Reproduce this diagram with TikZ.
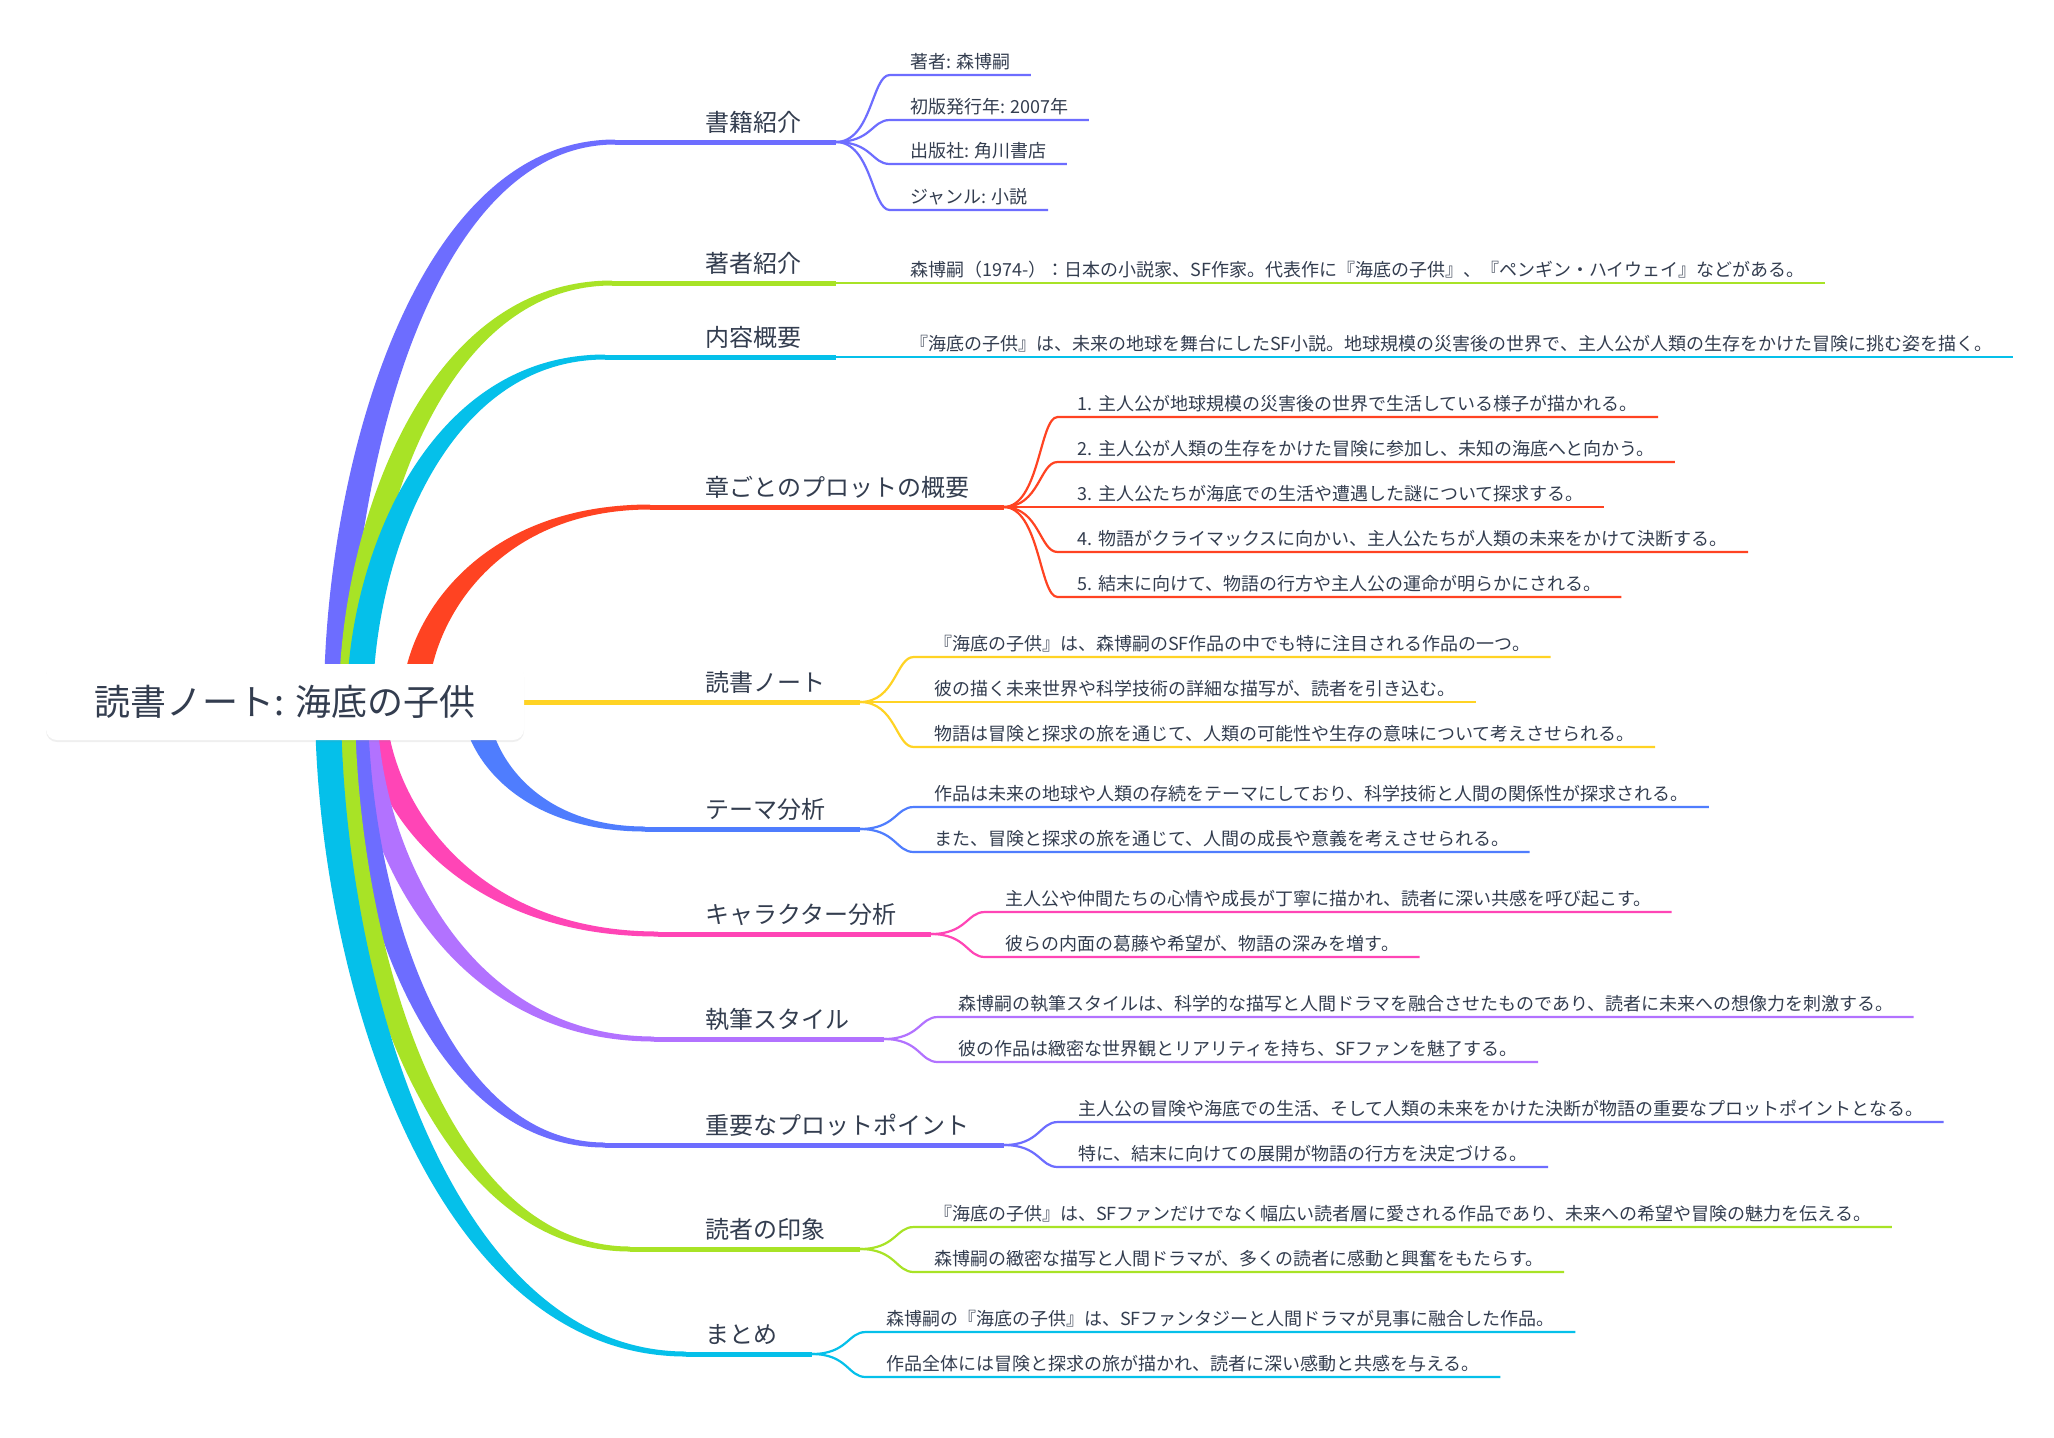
\documentclass[tikz,border=0pt]{standalone}
\usepackage{fontspec}
\setmainfont{Noto Sans CJK JP}
\usetikzlibrary{calc,positioning,shadows,backgrounds}
\definecolor{mmtext}{HTML}{333D4F}
\definecolor{mmindigo}{HTML}{6D6DFF}
\definecolor{mmlime}{HTML}{A8E326}
\definecolor{mmcyan}{HTML}{05C0EA}
\definecolor{mmred}{HTML}{FF4322}
\definecolor{mmyellow}{HTML}{FFD324}
\definecolor{mmblue}{HTML}{4F7DFE}
\definecolor{mmpink}{HTML}{FF45B6}
\definecolor{mmviolet}{HTML}{B272FF}

% tapered main branch: colour, start, end, -1 up / 1 down
\newcommand\limb[4]{%
  \coordinate (lo0) at ($(#2)+(-13,0)$);
  \coordinate (li0) at ($(#2)+(13,0)$);
  \coordinate (lo3) at ($(#3)+(0,#4*2.5)$);
  \coordinate (li3) at ($(#3)+(0,-#4*2.5)$);
  \fill[#1] (lo0) .. controls ($(lo0)!0.4!(lo0|-lo3)$) and ($(lo3)!0.7!(lo0|-lo3)$) .. (lo3)
    -- (li3) .. controls ($(li3)!0.7!(li0|-li3)$) and ($(li0)!0.4!(li0|-li3)$) .. (li0) -- cycle;
}

\begin{document}
\begin{tikzpicture}[x=0.5pt,y=-0.5pt,
  every node/.style={text=mmtext},
  root/.style={fill=white,rounded corners=5.5pt,minimum width=239pt,minimum height=38pt,
    font=\fontsize{18}{22}\selectfont,
    drop shadow={shadow xshift=0pt,shadow yshift=-1pt,opacity=0.12}},
  br/.style={anchor=south west,inner xsep=17pt,inner ysep=5.2pt,text depth=0pt,
    font=\fontsize{12}{14}\selectfont},
  lf/.style={anchor=south west,inner xsep=10pt,inner ysep=3.3pt,text depth=0pt,
    font=\fontsize{9}{11}\selectfont},
  stem/.style={line width=2.5pt},
  twig/.style={line width=1.1pt}]
\useasboundingbox (0,0) rectangle (2054,1437);

\node[root] (root) at (285,702) {読書ノート: 海底の子供};

% branch labels
\node[br] (b1) at (671,142) {書籍紹介};
\node[br] (b2) at (671,283) {著者紹介};
\node[br] (b3) at (671,357) {内容概要};
\node[br] (b4) at (671,507) {章ごとのプロットの概要};
\node[br] (b5) at (671,702) {読書ノート};
\node[br] (b6) at (671,829) {テーマ分析};
\node[br] (b7) at (671,934) {キャラクター分析};
\node[br] (b8) at (671,1039) {執筆スタイル};
\node[br] (b9) at (671,1145) {重要なプロットポイント};
\node[br] (b10) at (671,1249) {読者の印象};
\node[br] (b11) at (671,1354) {まとめ};

\begin{scope}[on background layer]
  \fill[white] (0,0) rectangle (2054,1437);
  \coordinate (s1) at (337,702);  \coordinate (e1) at (615,142);
  \coordinate (s2) at (352,702);  \coordinate (e2) at (612,283);
  \coordinate (s3) at (360,702);  \coordinate (e3) at (605,357);
  \coordinate (s4) at (415,702);  \coordinate (e4) at (650,507);
  \coordinate (s6) at (475,702);  \coordinate (e6) at (645,829);
  \coordinate (s7) at (373,702);  \coordinate (e7) at (658,934);
  \coordinate (s8) at (364,702);  \coordinate (e8) at (654,1039);
  \coordinate (s9) at (355,702);  \coordinate (e9) at (605,1145);
  \coordinate (s10) at (342,702); \coordinate (e10) at (630,1249);
  \coordinate (s11) at (328,702); \coordinate (e11) at (686,1354);
  \limb{mmindigo}{s1}{e1}{-1} \draw[stem,mmindigo] (e1) -- (b1.south east);
  \limb{mmlime}{s2}{e2}{-1}   \draw[stem,mmlime] (e2) -- (b2.south east);
  \limb{mmcyan}{s3}{e3}{-1}   \draw[stem,mmcyan] (e3) -- (b3.south east);
  \limb{mmred}{s4}{e4}{-1}    \draw[stem,mmred] (e4) -- (b4.south east);
  \draw[stem,mmyellow] (root.east) -- (b5.south east);
  \limb{mmblue}{s6}{e6}{1}    \draw[stem,mmblue] (e6) -- (b6.south east);
  \limb{mmpink}{s7}{e7}{1}    \draw[stem,mmpink] (e7) -- (b7.south east);
  \limb{mmviolet}{s8}{e8}{1}  \draw[stem,mmviolet] (e8) -- (b8.south east);
  \limb{mmindigo}{s9}{e9}{1}  \draw[stem,mmindigo] (e9) -- (b9.south east);
  \limb{mmlime}{s10}{e10}{1}  \draw[stem,mmlime] (e10) -- (b10.south east);
  \limb{mmcyan}{s11}{e11}{1}  \draw[stem,mmcyan] (e11) -- (b11.south east);
\end{scope}

% leaves
\foreach \dy/\txt [count=\i] in {-67/{著者: 森博嗣}, -22/{初版発行年: 2007年}, 22/{出版社: 角川書店}, 68/{ジャンル: 小説}}{
  \node[lf] (l1-\i) at ($(b1.south east)+(54,\dy)$) {\txt};
  \draw[twig,mmindigo] (b1.south east) .. controls +(36,0) and +(-18,0) .. (l1-\i.south west) -- (l1-\i.south east);
}
\node[lf] (l2-1) at ($(b2.south east)+(54,0)$) {森博嗣（1974-）：日本の小説家、SF作家。代表作に『海底の子供』、『ペンギン・ハイウェイ』などがある。};
\draw[twig,mmlime] (b2.south east) -- (l2-1.south west) -- (l2-1.south east);
\node[lf] (l3-1) at ($(b3.south east)+(54,0)$) {『海底の子供』は、未来の地球を舞台にしたSF小説。地球規模の災害後の世界で、主人公が人類の生存をかけた冒険に挑む姿を描く。};
\draw[twig,mmcyan] (b3.south east) -- (l3-1.south west) -- (l3-1.south east);
\foreach \dy/\txt [count=\i] in {
    -90/{1. 主人公が地球規模の災害後の世界で生活している様子が描かれる。},
    -45/{2. 主人公が人類の生存をかけた冒険に参加し、未知の海底へと向かう。},
    0/{3. 主人公たちが海底での生活や遭遇した謎について探求する。},
    45/{4. 物語がクライマックスに向かい、主人公たちが人類の未来をかけて決断する。},
    90/{5. 結末に向けて、物語の行方や主人公の運命が明らかにされる。}}{
  \node[lf] (l4-\i) at ($(b4.south east)+(54,\dy)$) {\txt};
  \draw[twig,mmred] (b4.south east) .. controls +(36,0) and +(-18,0) .. (l4-\i.south west) -- (l4-\i.south east);
}
\foreach \dy/\txt [count=\i] in {
    -45/{『海底の子供』は、森博嗣のSF作品の中でも特に注目される作品の一つ。},
    0/{彼の描く未来世界や科学技術の詳細な描写が、読者を引き込む。},
    45/{物語は冒険と探求の旅を通じて、人類の可能性や生存の意味について考えさせられる。}}{
  \node[lf] (l5-\i) at ($(b5.south east)+(54,\dy)$) {\txt};
  \draw[twig,mmyellow] (b5.south east) .. controls +(36,0) and +(-18,0) .. (l5-\i.south west) -- (l5-\i.south east);
}
\foreach \dy/\txt [count=\i] in {
    -22/{作品は未来の地球や人類の存続をテーマにしており、科学技術と人間の関係性が探求される。},
    23/{また、冒険と探求の旅を通じて、人間の成長や意義を考えさせられる。}}{
  \node[lf] (l6-\i) at ($(b6.south east)+(54,\dy)$) {\txt};
  \draw[twig,mmblue] (b6.south east) .. controls +(36,0) and +(-18,0) .. (l6-\i.south west) -- (l6-\i.south east);
}
\foreach \dy/\txt [count=\i] in {
    -22/{主人公や仲間たちの心情や成長が丁寧に描かれ、読者に深い共感を呼び起こす。},
    23/{彼らの内面の葛藤や希望が、物語の深みを増す。}}{
  \node[lf] (l7-\i) at ($(b7.south east)+(54,\dy)$) {\txt};
  \draw[twig,mmpink] (b7.south east) .. controls +(36,0) and +(-18,0) .. (l7-\i.south west) -- (l7-\i.south east);
}
\foreach \dy/\txt [count=\i] in {
    -22/{森博嗣の執筆スタイルは、科学的な描写と人間ドラマを融合させたものであり、読者に未来への想像力を刺激する。},
    23/{彼の作品は緻密な世界観とリアリティを持ち、SFファンを魅了する。}}{
  \node[lf] (l8-\i) at ($(b8.south east)+(54,\dy)$) {\txt};
  \draw[twig,mmviolet] (b8.south east) .. controls +(36,0) and +(-18,0) .. (l8-\i.south west) -- (l8-\i.south east);
}
\foreach \dy/\txt [count=\i] in {
    -23/{主人公の冒険や海底での生活、そして人類の未来をかけた決断が物語の重要なプロットポイントとなる。},
    22/{特に、結末に向けての展開が物語の行方を決定づける。}}{
  \node[lf] (l9-\i) at ($(b9.south east)+(54,\dy)$) {\txt};
  \draw[twig,mmindigo] (b9.south east) .. controls +(36,0) and +(-18,0) .. (l9-\i.south west) -- (l9-\i.south east);
}
\foreach \dy/\txt [count=\i] in {
    -22/{『海底の子供』は、SFファンだけでなく幅広い読者層に愛される作品であり、未来への希望や冒険の魅力を伝える。},
    23/{森博嗣の緻密な描写と人間ドラマが、多くの読者に感動と興奮をもたらす。}}{
  \node[lf] (l10-\i) at ($(b10.south east)+(54,\dy)$) {\txt};
  \draw[twig,mmlime] (b10.south east) .. controls +(36,0) and +(-18,0) .. (l10-\i.south west) -- (l10-\i.south east);
}
\foreach \dy/\txt [count=\i] in {
    -22/{森博嗣の『海底の子供』は、SFファンタジーと人間ドラマが見事に融合した作品。},
    23/{作品全体には冒険と探求の旅が描かれ、読者に深い感動と共感を与える。}}{
  \node[lf] (l11-\i) at ($(b11.south east)+(54,\dy)$) {\txt};
  \draw[twig,mmcyan] (b11.south east) .. controls +(36,0) and +(-18,0) .. (l11-\i.south west) -- (l11-\i.south east);
}
\end{tikzpicture}
\end{document}
